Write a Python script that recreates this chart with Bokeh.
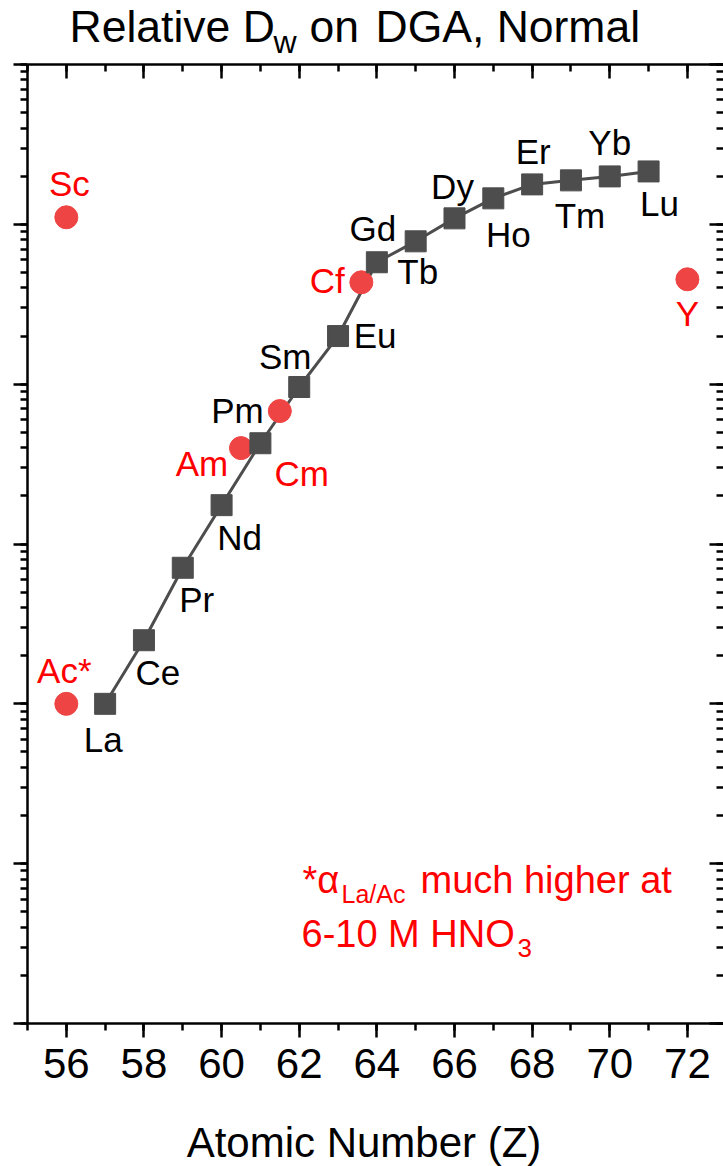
from bokeh.plotting import figure
from bokeh.layouts import column
from bokeh.models import (LinearAxis, LogAxis, SingleIntervalTicker, LogTicker,
                          Range1d, ColumnDataSource)
from bokeh.core.properties import value
from bokeh.embed import file_html
from bokeh.resources import INLINE

# ---------------- data ----------------
ln_labels = ["La", "Ce", "Pr", "Nd", "Pm", "Sm", "Eu", "Gd", "Tb", "Dy",
             "Ho", "Er", "Tm", "Yb", "Lu"]
ln_z = [57, 58, 59, 60, 61, 62, 63, 64, 65, 66, 67, 68, 69, 70, 71]
ln_dw = [1.0, 2.5, 7.1, 17.5, 42.7, 96, 200, 579, 783, 1090,
         1454, 1778, 1884, 1995, 2143]

other_labels = ["Sc", "Ac*", "Am", "Cm", "Cf", "Y"]
other_z = [56, 56, 60.5, 61.5, 63.6, 72]
other_dw = [1107, 1.0, 39.8, 67.9, 434, 453]

# ---------------- layout / style ----------------
FONT = "Liberation Sans"
SQ_COLOR = "#4d4d4d"
CIRC_COLOR = "#ef4444"
RED = "#ff0000"
W = 723
FRAME_L = 27          # frames of all stacked figures are aligned at this left edge
TITLE_H = 60
MAIN_H = 1043
XLAB_H = 1166 - TITLE_H - MAIN_H

# label offsets in px (right, down) relative to the point
ln_off = {"La": (-2, 36), "Ce": (14, 32), "Pr": (14, 32), "Nd": (18, 32),
          "Pm": (-23, -33), "Sm": (-14, -31), "Eu": (37, -1), "Gd": (-4, -34),
          "Tb": (2, 30), "Dy": (-2, -32), "Ho": (15, 36), "Er": (1, -33),
          "Tm": (9, 35), "Yb": (0, -34), "Lu": (11, 32)}
other_off = {"Sc": (3, -34), "Ac*": (-2, -33), "Am": (-39, 15), "Cm": (22, 62),
             "Cf": (-34, -2), "Y": (0, 34)}


def text_strip(h):
    f = figure(width=W, height=h, output_backend="svg", toolbar_location=None,
               x_range=Range1d(FRAME_L, W), y_range=Range1d(h, 0),
               x_axis_location=None, y_axis_location=None,
               min_border_left=FRAME_L, min_border_right=0,
               min_border_top=0, min_border_bottom=0)
    f.outline_line_color = None
    f.grid.visible = False
    return f


def put(f, txt, x, y, size, color="black", align="left"):
    f.text(x=[x], y=[y], text=[txt], text_font=value(FONT), text_font_size=size,
           text_color=color, text_align=align, text_baseline="middle")


# ---- title strip ---- (y = vertical centre of capitals, page px)
pt = text_strip(TITLE_H)
put(pt, "Relative D", 69, 26, "44.5px")
put(pt, "w", 273, 41.5, "32px")
put(pt, "on", 309, 26, "44.5px")
put(pt, "DGA, Normal", 375, 26, "44.5px")

# ---- main plot ----
p = figure(width=W, height=MAIN_H, output_backend="svg", toolbar_location=None,
           y_axis_type="log",
           x_range=Range1d(55, 72.93), y_range=Range1d(1e-2, 1e4),
           min_border_left=FRAME_L, min_border_right=0, min_border_top=4,
           min_border_bottom=80, background_fill_color="white",
           border_fill_color="white")
p.outline_line_color = None
p.xgrid.visible = False
p.ygrid.visible = False

xt = SingleIntervalTicker(interval=2, num_minor_ticks=2)
yt = LogTicker(num_minor_ticks=10)


def style_axis(ax, inward, show_line=True, labels=False):
    ax.axis_line_width = 2.5
    ax.axis_line_color = "black" if show_line else None
    ax.major_tick_line_width = 2.5
    ax.minor_tick_line_width = 2.5
    ax.major_tick_line_color = "black"
    ax.minor_tick_line_color = "black"
    if inward:
        ax.major_tick_in, ax.major_tick_out = 14, 0
        ax.minor_tick_in, ax.minor_tick_out = 7, 0
    else:
        ax.major_tick_in, ax.major_tick_out = 0, 14
        ax.minor_tick_in, ax.minor_tick_out = 0, 7
    if labels:
        ax.major_label_text_font = FONT
        ax.major_label_text_font_size = "42px"
        ax.major_label_text_color = "black"
        ax.major_label_standoff = 11
    else:
        ax.major_label_text_font_size = "0px"
        ax.major_label_standoff = 0
        ax.major_label_text_color = None


bx = p.xaxis[0]
bx.ticker = xt
style_axis(bx, inward=False, labels=True)
ly = p.yaxis[0]
ly.ticker = yt
style_axis(ly, inward=False, labels=False)

tx = LinearAxis(ticker=xt)
style_axis(tx, inward=True, labels=False)
p.add_layout(tx, "above")
ry = LogAxis(ticker=yt)
style_axis(ry, inward=True, show_line=False, labels=False)
p.add_layout(ry, "right")

# data marks
p.line(ln_z, ln_dw, line_color=SQ_COLOR, line_width=3)
p.scatter(other_z, other_dw, marker="circle", size=23, color=CIRC_COLOR)
p.scatter(ln_z, ln_dw, marker="square", size=21, color=SQ_COLOR)

lab_src = ColumnDataSource(dict(
    x=ln_z + other_z,
    y=ln_dw + other_dw,
    t=ln_labels + other_labels,
    dx=[ln_off[k][0] for k in ln_labels] + [other_off[k][0] for k in other_labels],
    dy=[ln_off[k][1] for k in ln_labels] + [other_off[k][1] for k in other_labels],
    c=["black"] * len(ln_labels) + [RED] * len(other_labels),
))
p.text(x="x", y="y", text="t", x_offset="dx", y_offset="dy", source=lab_src,
       text_align="center", text_baseline="middle", text_color="c",
       text_font=value(FONT), text_font_size="35px")

# note: offsets in px from the frame's lower-left corner (centre of capitals)
note = ColumnDataSource(dict(
    t=["*\u03b1", "La/Ac", "much higher at", "6-10 M HNO", "3"],
    dx=[275, 314, 393, 274, 490],
    dy=[-143.6, -130, -143.6, -89.6, -75.3],
    s=["38px", "25px", "38px", "38px", "26px"],
))
p.text(x=55, y=1e-2, text="t", x_offset="dx", y_offset="dy", source=note,
       text_font_size="s", text_font=value(FONT), text_color=RED,
       text_align="left", text_baseline="middle")

# ---- x-axis title strip ----
pb = text_strip(XLAB_H)
put(pb, "Atomic Number (Z)", 363.5, 1142 - (TITLE_H + MAIN_H), "42px", align="center")

layout = column(pt, p, pb, spacing=0)
open("out.html", "w").write(file_html(layout, INLINE))
